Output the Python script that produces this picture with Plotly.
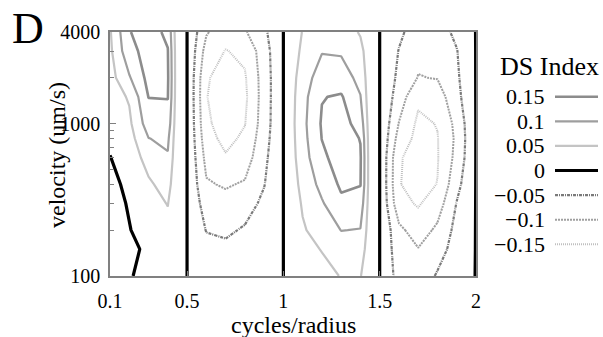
import math
import plotly.graph_objects as go

# ---------------- data ----------------
CYCLES = [0.1, 0.2, 0.3, 0.4, 0.45, 0.5, 0.6, 0.7, 0.8, 0.9, 1.0,
          1.1, 1.2, 1.3, 1.4, 1.45, 1.5, 1.6, 1.7, 1.8, 1.9, 2.0]
VELOCITY = [100, 150, 200, 300, 400, 600, 800, 1000, 1500, 2000, 3000, 4000]

# DS index, one list per cycles/radius value (velocity 100 -> 4000)
DS_INDEX = [
    [-0.025, -0.025, -0.022, -0.018, -0.012, -0.001, 0.008, 0.016, 0.026, 0.030, 0.040, 0.045],   # 0.1
    [-0.004, -0.012, -0.002, 0.004, 0.010, 0.020, 0.030, 0.040, 0.055, 0.095, 0.135, 0.148],      # 0.2
    [0.016, 0.010, 0.020, 0.030, 0.042, 0.070, 0.099, 0.125, 0.151, 0.165, 0.168, 0.170],         # 0.3
    [0.020, 0.025, 0.035, 0.052, 0.070, 0.095, 0.110, 0.130, 0.152, 0.156, 0.152, 0.140],         # 0.4
    [0.002, 0.003, 0.004, 0.005, 0.006, 0.008, 0.010, 0.012, 0.015, 0.016, 0.015, 0.012],         # 0.45
    [0, 0, 0, 0, 0, 0, 0, 0, 0, 0, 0, 0],                                                         # 0.5
    [-0.020, -0.035, -0.052, -0.075, -0.095, -0.115, -0.130, -0.140, -0.148, -0.145, -0.120, -0.095],  # 0.6
    [-0.025, -0.040, -0.058, -0.085, -0.105, -0.145, -0.165, -0.175, -0.180, -0.170, -0.152, -0.130],  # 0.7
    [-0.020, -0.035, -0.045, -0.070, -0.095, -0.125, -0.140, -0.152, -0.160, -0.155, -0.140, -0.105],  # 0.8
    [-0.015, -0.020, -0.030, -0.040, -0.052, -0.062, -0.070, -0.075, -0.077, -0.077, -0.072, -0.060],  # 0.9
    [0, 0, 0, 0, 0, 0, 0, 0, 0, 0, 0, 0],                                                         # 1.0
    [0.025, 0.035, 0.045, 0.055, 0.065, 0.078, 0.083, 0.086, 0.082, 0.075, 0.060, 0.052],         # 1.1
    [0.035, 0.052, 0.070, 0.095, 0.115, 0.140, 0.151, 0.155, 0.148, 0.125, 0.097, 0.070],         # 1.2
    [0.052, 0.075, 0.101, 0.140, 0.158, 0.172, 0.175, 0.170, 0.155, 0.125, 0.094, 0.080],         # 1.3
    [0.052, 0.075, 0.098, 0.130, 0.152, 0.155, 0.148, 0.130, 0.102, 0.085, 0.065, 0.045],         # 1.4
    [0.020, 0.020, 0.020, 0.022, 0.024, 0.024, 0.022, 0.020, 0.017, 0.018, 0.018, 0.015],         # 1.45
    [0, 0, 0, 0, 0, 0, 0, 0, 0, 0, 0, 0],                                                         # 1.5
    [-0.070, -0.080, -0.088, -0.135, -0.148, -0.145, -0.120, -0.102, -0.075, -0.062, -0.052, -0.040],  # 1.6
    [-0.080, -0.098, -0.125, -0.155, -0.165, -0.170, -0.165, -0.160, -0.140, -0.102, -0.088, -0.075],  # 1.7
    [-0.045, -0.070, -0.090, -0.125, -0.149, -0.153, -0.152, -0.148, -0.125, -0.098, -0.085, -0.070],  # 1.8
    [-0.020, -0.030, -0.035, -0.048, -0.065, -0.085, -0.090, -0.085, -0.065, -0.058, -0.052, -0.040],  # 1.9
    [0.001, 0.001, 0.001, 0.001, 0.001, 0.001, 0.001, 0.001, 0.001, 0.001, 0.001, 0.001],         # 2.0
]

LEVELS = [0.15, 0.1, 0.05, 0, -0.05, -0.1, -0.15]
LEVEL_LABELS = ["0.15", "0.1", "0.05", "0", "\u22120.05", "\u22120.1", "\u22120.15"]

X_TICKS = [0.1, 0.5, 1, 1.5, 2]
X_TICK_TEXT = ["0.1", "0.5", "1", "1.5", "2"]
Y_TICKS = [100, 1000, 4000]
Y_TICK_TEXT = ["100", "1000", "4000"]
Y_MINOR = [200, 300, 400, 500, 600, 700, 800, 900, 2000, 3000]

# ---------------- styles ----------------
STYLES = [
    dict(color="#8c8c8c", width=2.6, dash="solid"),
    dict(color="#9e9e9e", width=2.2, dash="solid"),
    dict(color="#c4c4c4", width=2.2, dash="solid"),
    dict(color="#000000", width=3.2, dash="solid"),
    dict(color="#7a7a7a", width=2.2, dash="3px,1px,1px,1px"),
    dict(color="#a0a0a0", width=2.0, dash="2px,1px"),
    dict(color="#c0c0c0", width=2.0, dash="1px,1px"),
]
FONT = "Liberation Serif"

W, H = 603, 337
L, R, T, B = 110, 476, 32, 276   # plot area in pixels


def px_x(px):
    return (px - L) / (R - L)


def px_y(py):
    return (B - py) / (B - T)


fig = go.Figure()
for lvl, st in zip(LEVELS, STYLES):
    fig.add_trace(go.Contour(
        x=CYCLES, y=VELOCITY, z=DS_INDEX, transpose=True,
        autocontour=False,
        contours=dict(start=lvl, end=lvl, size=0.05, coloring="none"),
        line=dict(color=st["color"], width=st["width"], dash=st["dash"], smoothing=0),
        showscale=False, hoverinfo="skip", name=str(lvl),
    ))

fig.update_layout(
    width=W, height=H,
    margin=dict(l=L, r=W - R, t=T, b=H - B, pad=0),
    plot_bgcolor="white", paper_bgcolor="white",
    showlegend=False,
    font=dict(family=FONT, color="black"),
)
fig.update_xaxes(
    range=[CYCLES[0], CYCLES[-1]], tickmode="array", tickvals=X_TICKS, ticktext=X_TICK_TEXT,
    ticks="inside", ticklen=5, tickcolor="#808080", showline=True, linecolor="#808080",
    linewidth=1.6, mirror=True, showgrid=False, zeroline=False,
    tickfont=dict(family=FONT, size=20, color="black"), ticklabelstandoff=6,
)
fig.update_yaxes(
    type="log", range=[math.log10(VELOCITY[0]), math.log10(VELOCITY[-1])],
    tickmode="array", tickvals=Y_TICKS, ticktext=Y_TICK_TEXT,
    ticks="inside", ticklen=6, tickcolor="#808080", showline=True, linecolor="#808080",
    linewidth=1.6, mirror=True, showgrid=False, zeroline=False,
    tickfont=dict(family=FONT, size=20, color="black"), ticklabelstandoff=4,
    minor=dict(tickmode="array", tickvals=Y_MINOR, ticks="inside", ticklen=4,
               tickcolor="#808080", showgrid=False),
)

ann = []
shapes = []
# panel letter
ann.append(dict(text="D", x=px_x(10), y=px_y(29), xref="paper", yref="paper",
                xanchor="left", yanchor="middle", showarrow=False,
                font=dict(family=FONT, size=44, color="black")))
# axis titles
ann.append(dict(text="cycles/radius", x=px_x(293), y=px_y(325), xref="paper", yref="paper",
                xanchor="center", yanchor="middle", showarrow=False,
                font=dict(family=FONT, size=24, color="black")))
ann.append(dict(text="velocity (um/s)", x=px_x(57), y=px_y(155), xref="paper", yref="paper",
                xanchor="center", yanchor="middle", showarrow=False, textangle=-90,
                font=dict(family=FONT, size=24, color="black")))
# legend
ann.append(dict(text="DS Index", x=px_x(549), y=px_y(66.5), xref="paper", yref="paper",
                xanchor="center", yanchor="middle", showarrow=False,
                font=dict(family=FONT, size=26, color="black")))
for i, (lab, st) in enumerate(zip(LEVEL_LABELS, STYLES)):
    yy = 96.7 + 24.6 * i
    ann.append(dict(text=lab, x=px_x(547), y=px_y(yy), xref="paper", yref="paper",
                    xanchor="right", yanchor="middle", showarrow=False,
                    font=dict(family=FONT, size=22, color="black")))
    shapes.append(dict(type="line", xref="paper", yref="paper",
                       x0=px_x(555), x1=px_x(598), y0=px_y(yy), y1=px_y(yy),
                       line=dict(color=st["color"], width=st["width"], dash=st["dash"])))

fig.update_layout(annotations=ann, shapes=shapes)
fig.write_html("out.html")
